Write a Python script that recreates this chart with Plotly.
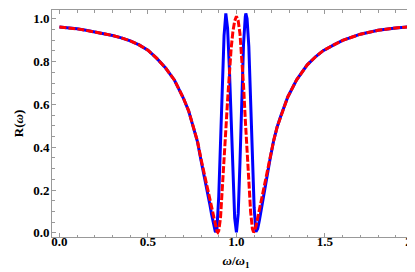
import plotly.graph_objects as go

# Values
omega_blue = [0.00, 0.05, 0.10, 0.15, 0.20, 0.25, 0.30, 0.35, 0.40, 0.45, 0.50, 0.55, 0.60,
              0.65, 0.70, 0.73, 0.76, 0.78, 0.80, 0.82, 0.84, 0.85, 0.86, 0.87, 0.88, 0.883,
              0.89, 0.90, 0.91, 0.92, 0.93, 0.94, 0.95, 0.96, 0.97, 0.98, 0.99, 1.00,
              1.01, 1.02, 1.03, 1.04, 1.05, 1.053, 1.06, 1.07, 1.08, 1.09, 1.10, 1.11,
              1.12, 1.13, 1.14, 1.15, 1.17, 1.19, 1.21, 1.23, 1.25, 1.29, 1.34, 1.40,
              1.45, 1.49, 1.55, 1.60, 1.70, 1.80, 1.90, 2.00]
r_blue = [0.962, 0.958, 0.953, 0.946, 0.939, 0.931, 0.922, 0.911, 0.897, 0.878, 0.853, 0.815, 0.770,
          0.713, 0.630, 0.570, 0.490, 0.425, 0.338, 0.260, 0.180, 0.132, 0.085, 0.040, 0.008, 0.004,
          0.020, 0.170, 0.450, 0.720, 0.920, 1.025, 0.955, 0.770, 0.510, 0.250, 0.070, 0.003,
          0.090, 0.330, 0.630, 0.880, 1.010, 1.025, 1.000, 0.870, 0.620, 0.350, 0.120, 0.005,
          0.020, 0.060, 0.110, 0.155, 0.250, 0.345, 0.430, 0.495, 0.545, 0.635, 0.715, 0.785,
          0.825, 0.851, 0.878, 0.899, 0.928, 0.946, 0.957, 0.964]

omega_red = [0.00, 0.05, 0.10, 0.15, 0.20, 0.25, 0.30, 0.35, 0.40, 0.45, 0.50, 0.55, 0.60,
             0.65, 0.70, 0.73, 0.76, 0.78, 0.80, 0.82, 0.84, 0.86, 0.87, 0.88, 0.89, 0.895,
             0.90, 0.91, 0.92, 0.93, 0.94, 0.95, 0.96, 0.97, 0.98, 0.99, 1.00,
             1.01, 1.02, 1.03, 1.04, 1.05, 1.06, 1.07, 1.08, 1.09, 1.097,
             1.10, 1.11, 1.12, 1.13, 1.15, 1.17, 1.19, 1.21, 1.23, 1.25, 1.29, 1.34, 1.40,
             1.45, 1.49, 1.55, 1.60, 1.70, 1.80, 1.90, 2.00]
r_red = [0.962, 0.958, 0.953, 0.946, 0.939, 0.931, 0.922, 0.911, 0.897, 0.878, 0.853, 0.815, 0.770,
         0.713, 0.630, 0.570, 0.490, 0.428, 0.345, 0.268, 0.192, 0.110, 0.070, 0.035, 0.008, 0.003,
         0.010, 0.070, 0.190, 0.330, 0.480, 0.620, 0.750, 0.860, 0.940, 0.990, 1.012,
         0.990, 0.930, 0.830, 0.690, 0.530, 0.370, 0.220, 0.100, 0.020, 0.003,
         0.006, 0.030, 0.070, 0.110, 0.180, 0.270, 0.355, 0.430, 0.495, 0.545, 0.635, 0.715, 0.785,
         0.825, 0.851, 0.878, 0.899, 0.928, 0.946, 0.957, 0.964]

x_ticks = [0.0, 0.5, 1.0, 1.5, 2.0]
x_tick_labels = ["0.0", "0.5", "1.0", "1.5", "2.0"]
y_ticks = [0.0, 0.2, 0.4, 0.6, 0.8, 1.0]
y_tick_labels = ["0.0", "0.2", "0.4", "0.6", "0.8", "1.0"]

fig = go.Figure()
fig.add_trace(go.Scatter(x=omega_blue, y=r_blue, mode="lines",
                         line=dict(color="#0000FF", width=3), showlegend=False))
fig.add_trace(go.Scatter(x=omega_red, y=r_red, mode="lines",
                         line=dict(color="#FF0000", width=3, dash="7px,2px"), showlegend=False))

font = dict(family="Liberation Serif, Times New Roman, serif", size=13, color="black",
            weight="bold")
axis_common = dict(showgrid=False, zeroline=False, showline=True, linecolor="#999999",
                   linewidth=1, mirror="ticks", ticks="inside", ticklen=4, tickcolor="#999999",
                   tickfont=font)

fig.update_xaxes(range=[-0.042, 2.037], tickvals=x_ticks, ticktext=x_tick_labels,
                 ticklabelstandoff=-8,
                 minor=dict(dtick=0.1, ticks="inside", ticklen=2.5, tickcolor="#999999"),
                 title=dict(text="<i>ω</i>/<i>ω</i><sub>1</sub>", font=font, standoff=8),
                 **axis_common)
fig.update_yaxes(range=[-0.019, 1.041], tickvals=y_ticks, ticktext=y_tick_labels,
                 ticklabelstandoff=-1,
                 minor=dict(dtick=0.05, ticks="inside", ticklen=2.5, tickcolor="#999999"),
                 title=dict(text="R(<i>ω</i>)", font=font, standoff=6),
                 **axis_common)

fig.update_layout(width=415, height=272, margin=dict(l=44, r=3, t=2, b=43),
                  plot_bgcolor="white", paper_bgcolor="white")

fig.write_html("out.html")
